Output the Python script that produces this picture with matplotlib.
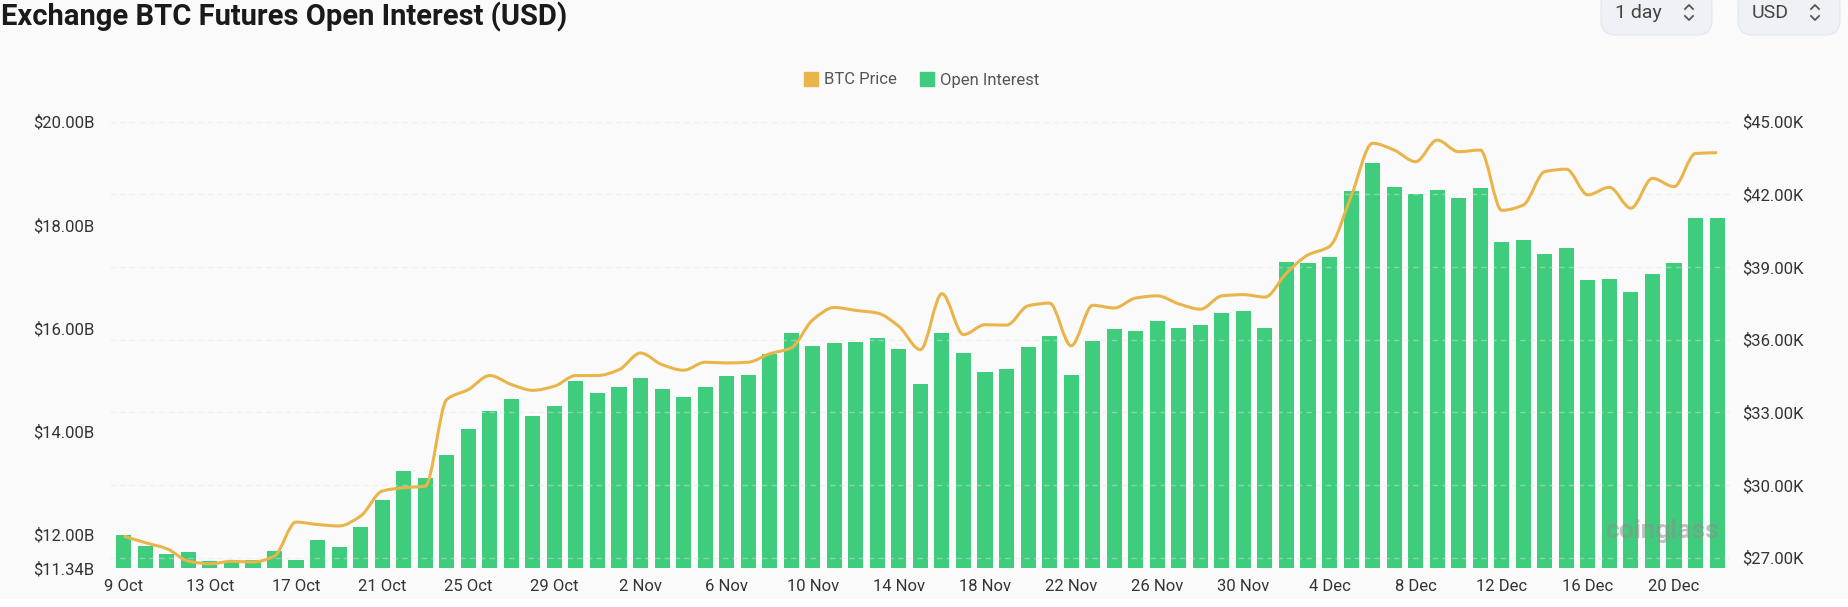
import numpy as np
import pandas as pd
import matplotlib
matplotlib.use('Agg')
import matplotlib.pyplot as plt
from matplotlib.path import Path
from matplotlib.patches import PathPatch, FancyBboxPatch, Rectangle
from matplotlib.lines import Line2D

# Data (9 Oct - 22 Dec, one value per day)
dates = pd.date_range('2023-10-09', '2023-12-22', freq='D')

# Open interest, billions of USD
open_interest = [
    11.99, 11.76, 11.61, 11.66, 11.47, 11.47, 11.49, 11.67, 11.50, 11.88,
    11.75, 12.13, 12.65, 13.23, 13.08, 13.53, 14.03, 14.39, 14.61, 14.28,
    14.49, 14.97, 14.74, 14.86, 15.02, 14.82, 14.65, 14.86, 15.06, 15.08,
    15.49, 15.90, 15.65, 15.70, 15.72, 15.81, 15.58, 14.92, 15.90, 15.52,
    15.15, 15.20, 15.63, 15.84, 15.08, 15.74, 15.97, 15.94, 16.14, 16.00,
    16.06, 16.29, 16.33, 16.00, 17.28, 17.26, 17.38, 18.66, 19.19, 18.74,
    18.59, 18.68, 18.51, 18.71, 17.67, 17.70, 17.43, 17.54, 16.93, 16.95,
    16.69, 17.04, 17.25, 18.13, 18.14,
]

# BTC price, thousands of USD
btc_price = [
    27.89, 27.62, 27.37, 26.86, 26.75, 26.85, 26.82, 27.07, 28.47, 28.37,
    28.31, 28.72, 29.75, 29.89, 29.95, 33.53, 33.94, 34.52, 34.15, 33.91,
    34.08, 34.52, 34.52, 34.76, 35.45, 34.97, 34.74, 35.07, 35.04, 35.07,
    35.42, 35.66, 36.82, 37.33, 37.21, 37.10, 36.55, 35.59, 37.90, 36.21,
    36.62, 36.60, 37.40, 37.51, 35.75, 37.42, 37.31, 37.72, 37.81, 37.48,
    37.26, 37.81, 37.86, 37.76, 38.75, 39.50, 39.85, 41.91, 44.11, 43.83,
    43.35, 44.24, 43.76, 43.83, 41.34, 41.56, 42.94, 43.04, 41.98, 42.29,
    41.43, 42.66, 42.32, 43.69, 43.72,
]

left_ticks = [11.34, 12, 14, 16, 18, 20]
left_labels = ['$11.34B', '$12.00B', '$14.00B', '$16.00B', '$18.00B', '$20.00B']
right_ticks = [27, 30, 33, 36, 39, 42, 45]
right_labels = ['$27.00K', '$30.00K', '$33.00K', '$36.00K', '$39.00K', '$42.00K', '$45.00K']

GREEN = '#3fcc7d'
YELLOW = '#e9b54a'
TEXT = '#333333'
W, H = 1849, 607

plt.rcParams['font.family'] = ['Roboto', 'DejaVu Sans']


def smooth_path(x, y):
    # monotone cubic curve through the points, as bezier segments
    x = np.asarray(x, float)
    y = np.asarray(y, float)
    h = np.diff(x)
    d = np.diff(y) / h
    m = np.zeros_like(y)
    m[0], m[-1] = d[0], d[-1]
    for i in range(1, len(y) - 1):
        if d[i - 1] * d[i] > 0:
            m[i] = 2 / (1 / d[i - 1] + 1 / d[i])
    verts = [(x[0], y[0])]
    codes = [Path.MOVETO]
    for i in range(len(x) - 1):
        verts += [(x[i] + h[i] / 3, y[i] + m[i] * h[i] / 3),
                  (x[i + 1] - h[i] / 3, y[i + 1] - m[i + 1] * h[i] / 3),
                  (x[i + 1], y[i + 1])]
        codes += [Path.CURVE4] * 3
    return Path(verts, codes)


def fx(px):
    return px / W


def fy(py):
    return 1 - py / H


fig = plt.figure(figsize=(W / 100, H / 100), dpi=100, facecolor='#fafafa')
ax = fig.add_axes([fx(110), fy(568), fx(1730) - fx(110), fy(121.7) - fy(568)])
ax.set_facecolor('#fafafa')

x = np.arange(len(dates))
ax.bar(x, open_interest, width=0.7, color=GREEN, zorder=2)
ax.set_ylim(11.34, 20.0)
ax.set_xlim(-0.64, len(dates) - 0.4)
ax.set_yticks(left_ticks)
ax.set_yticklabels(left_labels)
ax.set_xticks(x[::4])
ax.set_xticklabels([f'{d.day} {d.strftime("%b")}' for d in dates[::4]])
ax.tick_params(axis='both', length=0, labelsize=12, colors=TEXT)
ax.tick_params(axis='y', pad=11)
ax.tick_params(axis='x', pad=8)

ax2 = ax.twinx()
ax2.set_ylim(26.575, 45.0)
ax2.set_yticks(right_ticks)
ax2.set_yticklabels(right_labels)
ax2.tick_params(axis='y', length=0, labelsize=12, colors=TEXT, pad=9)
ax2.grid(axis='y', color='#e4e4e4', linestyle=(0, (4, 3)), linewidth=1, alpha=0.45)
ax2.add_patch(PathPatch(smooth_path(x, btc_price), facecolor='none',
                        edgecolor=YELLOW, linewidth=2.2, zorder=3))

for a in (ax, ax2):
    for s in a.spines.values():
        s.set_visible(False)

# legend
handles = [Line2D([], [], marker='s', linestyle='none', markersize=10, color=YELLOW),
           Line2D([], [], marker='s', linestyle='none', markersize=10, color=GREEN)]
fig.legend(handles, ['BTC Price', 'Open Interest'], loc='center',
           bbox_to_anchor=(fx(921), fy(80)), ncol=2, frameon=False,
           fontsize=12, labelcolor='#555555', handletextpad=0.3,
           columnspacing=1.3, handlelength=1.0)

# title
fig.text(fx(1), fy(17), 'Exchange BTC Futures Open Interest (USD)',
         fontsize=21, fontweight='bold', color='#1a1a1a', va='center', ha='left')

# dropdown boxes at top right
for x0, x1, label, chev in [(1601, 1712, '1 day', 1689), (1738, 1840, 'USD', 1815)]:
    fig.add_artist(FancyBboxPatch((fx(x0), fy(35)), fx(x1 - x0), fy(-10) - fy(35),
                                  boxstyle='round,pad=0,rounding_size=0.008',
                                  transform=fig.transFigure, facecolor='#eef1f5',
                                  edgecolor='#e3e7ec', linewidth=0.8, mutation_aspect=3))
    fig.text(fx(x0 + 14), fy(13), label, fontsize=14, color='#444444',
             va='center', ha='left')
    fig.add_artist(Line2D([fx(chev - 4), fx(chev), fx(chev + 4)], [fy(9), fy(5), fy(9)],
                          transform=fig.transFigure, color='#555555', linewidth=1.3))
    fig.add_artist(Line2D([fx(chev - 4), fx(chev), fx(chev + 4)], [fy(16), fy(20), fy(16)],
                          transform=fig.transFigure, color='#555555', linewidth=1.3))

# watermark
fig.text(fx(1605), fy(531), 'coinglass', fontsize=19, fontweight='bold',
         color='#8f8f8f', alpha=0.55, va='center', ha='left')

# white strip at the very bottom
fig.add_artist(Rectangle((0, 0), 1, fy(599), transform=fig.transFigure,
                         facecolor='white', edgecolor='none', zorder=-1))

fig.savefig('out.png', dpi=100, facecolor=fig.get_facecolor())
plt.close(fig)
